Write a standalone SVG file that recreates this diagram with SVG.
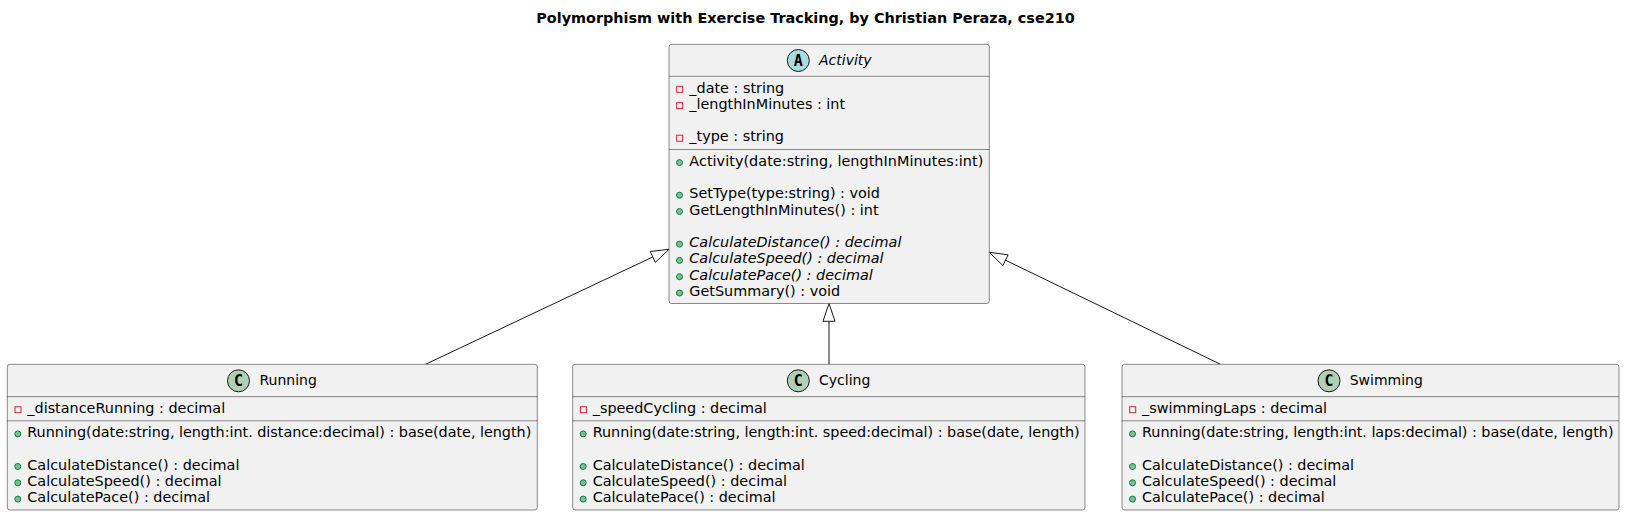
<svg xmlns="http://www.w3.org/2000/svg" width="1625" height="516" viewBox="0 0 1625 516">
<style>
text{font-family:"DejaVu Sans","Liberation Sans",sans-serif;font-size:14.4px;fill:#000}
.title{font-weight:bold;text-anchor:middle;font-size:14.4px}
.nm{font-size:14px}
.it{font-style:italic}
.box{fill:#F1F1F1;stroke:#181818;stroke-width:0.5}
.sep{stroke:#181818;stroke-width:0.5}
.priv{fill:none;stroke:#C82930;stroke-width:1}
.pub{fill:#84BE84;stroke:#038048;stroke-width:1}
.cc{fill:#ADD1B2;stroke:#181818;stroke-width:1}
.ca{fill:#A9DCDF;stroke:#181818;stroke-width:1}
.glyph{font-family:"DejaVu Sans Mono","Liberation Mono",monospace;font-weight:bold;font-size:15px;text-anchor:middle}
.edge{stroke:#181818;stroke-width:1;fill:none}
</style>
<rect width="1625" height="516" fill="#FFFFFF"/>
<text class="title" x="805.5" y="22.7">Polymorphism with Exercise Tracking, by Christian Peraza, cse210</text>

<g id="connectors">
<line class="edge" x1="425.5" y1="364.3" x2="652.7" y2="257"/>
<polygon class="edge" points="669,249.3 650.2,251.5 655.3,262.4"/>
<line class="edge" x1="829" y1="364.3" x2="829" y2="321.3"/>
<polygon class="edge" points="829,303.5 823,321.3 835,321.3"/>
<line class="edge" x1="1220.5" y1="364.3" x2="1005.5" y2="260.2"/>
<polygon class="edge" points="989.3,252.3 1008.1,254.8 1002.9,265.6"/>
</g>

<g id="Activity">
<rect class="box" x="669" y="44.3" width="320.3" height="259.2" rx="2.5" ry="2.5"/>
<circle class="ca" cx="798.3" cy="60.5" r="11"/>
<text class="glyph" x="798.3" y="65.6">A</text>
<text class="it nm" x="819" y="65">Activity</text>
<line class="sep" x1="669" y1="76.3" x2="989.3" y2="76.3"/>
<rect class="priv" x="676.7" y="86.3" width="6" height="6"/>
<text x="689.3" y="92.5">_date : string</text>
<rect class="priv" x="676.7" y="102.6" width="6" height="6"/>
<text x="689.3" y="108.8">_lengthInMinutes : int</text>
<rect class="priv" x="676.7" y="135.2" width="6" height="6"/>
<text x="689.3" y="141.4">_type : string</text>
<line class="sep" x1="669" y1="149.5" x2="989.3" y2="149.5"/>
<circle class="pub" cx="679.5" cy="162.6" r="3"/>
<text x="689.3" y="165.6" textLength="294" lengthAdjust="spacing">Activity(date:string, lengthInMinutes:int)</text>
<circle class="pub" cx="679.5" cy="195.2" r="3"/>
<text x="689.3" y="198.2">SetType(type:string) : void</text>
<circle class="pub" cx="679.5" cy="211.5" r="3"/>
<text x="689.3" y="214.5">GetLengthInMinutes() : int</text>
<circle class="pub" cx="679.5" cy="244.1" r="3"/>
<text class="it" x="689.3" y="247.1">CalculateDistance() : decimal</text>
<circle class="pub" cx="679.5" cy="260.4" r="3"/>
<text class="it" x="689.3" y="263.4">CalculateSpeed() : decimal</text>
<circle class="pub" cx="679.5" cy="276.7" r="3"/>
<text class="it" x="689.3" y="279.7">CalculatePace() : decimal</text>
<circle class="pub" cx="679.5" cy="293" r="3"/>
<text x="689.3" y="296">GetSummary() : void</text>
</g>

<g id="Running">
<rect class="box" x="7.3" y="364.3" width="530" height="145.7" rx="2.5" ry="2.5"/>
<circle class="cc" cx="238.5" cy="380.8" r="11"/>
<text class="glyph" x="238.5" y="385.9">C</text>
<text class="nm" x="259.5" y="385.2">Running</text>
<line class="sep" x1="7.3" y1="396.7" x2="537.3" y2="396.7"/>
<rect class="priv" x="15" y="406.7" width="6" height="6"/>
<text x="27.3" y="412.9">_distanceRunning : decimal</text>
<line class="sep" x1="7.3" y1="420.8" x2="537.3" y2="420.8"/>
<circle class="pub" cx="17.8" cy="433.9" r="3"/>
<text x="27.3" y="436.9" textLength="504" lengthAdjust="spacing">Running(date:string, length:int. distance:decimal) : base(date, length)</text>
<circle class="pub" cx="17.8" cy="466.5" r="3"/>
<text x="27.3" y="469.5">CalculateDistance() : decimal</text>
<circle class="pub" cx="17.8" cy="482.8" r="3"/>
<text x="27.3" y="485.8">CalculateSpeed() : decimal</text>
<circle class="pub" cx="17.8" cy="499.1" r="3"/>
<text x="27.3" y="502.1">CalculatePace() : decimal</text>
</g>

<g id="Cycling">
<rect class="box" x="572.7" y="364.3" width="512.3" height="145.7" rx="2.5" ry="2.5"/>
<circle class="cc" cx="798.3" cy="380.8" r="11"/>
<text class="glyph" x="798.3" y="385.9">C</text>
<text class="nm" x="819" y="385.2">Cycling</text>
<line class="sep" x1="572.7" y1="396.7" x2="1085" y2="396.7"/>
<rect class="priv" x="580.4" y="406.7" width="6" height="6"/>
<text x="592.7" y="412.9">_speedCycling : decimal</text>
<line class="sep" x1="572.7" y1="420.8" x2="1085" y2="420.8"/>
<circle class="pub" cx="583.2" cy="433.9" r="3"/>
<text x="592.7" y="436.9" textLength="487" lengthAdjust="spacing">Running(date:string, length:int. speed:decimal) : base(date, length)</text>
<circle class="pub" cx="583.2" cy="466.5" r="3"/>
<text x="592.7" y="469.5">CalculateDistance() : decimal</text>
<circle class="pub" cx="583.2" cy="482.8" r="3"/>
<text x="592.7" y="485.8">CalculateSpeed() : decimal</text>
<circle class="pub" cx="583.2" cy="499.1" r="3"/>
<text x="592.7" y="502.1">CalculatePace() : decimal</text>
</g>

<g id="Swimming">
<rect class="box" x="1122" y="364.3" width="497" height="145.7" rx="2.5" ry="2.5"/>
<circle class="cc" cx="1329" cy="380.8" r="11"/>
<text class="glyph" x="1329" y="385.9">C</text>
<text class="nm" x="1349.7" y="385.2">Swimming</text>
<line class="sep" x1="1122" y1="396.7" x2="1619" y2="396.7"/>
<rect class="priv" x="1129.7" y="406.7" width="6" height="6"/>
<text x="1142" y="412.9">_swimmingLaps : decimal</text>
<line class="sep" x1="1122" y1="420.8" x2="1619" y2="420.8"/>
<circle class="pub" cx="1132.5" cy="433.9" r="3"/>
<text x="1142" y="436.9" textLength="471.5" lengthAdjust="spacing">Running(date:string, length:int. laps:decimal) : base(date, length)</text>
<circle class="pub" cx="1132.5" cy="466.5" r="3"/>
<text x="1142" y="469.5">CalculateDistance() : decimal</text>
<circle class="pub" cx="1132.5" cy="482.8" r="3"/>
<text x="1142" y="485.8">CalculateSpeed() : decimal</text>
<circle class="pub" cx="1132.5" cy="499.1" r="3"/>
<text x="1142" y="502.1">CalculatePace() : decimal</text>
</g>
</svg>
